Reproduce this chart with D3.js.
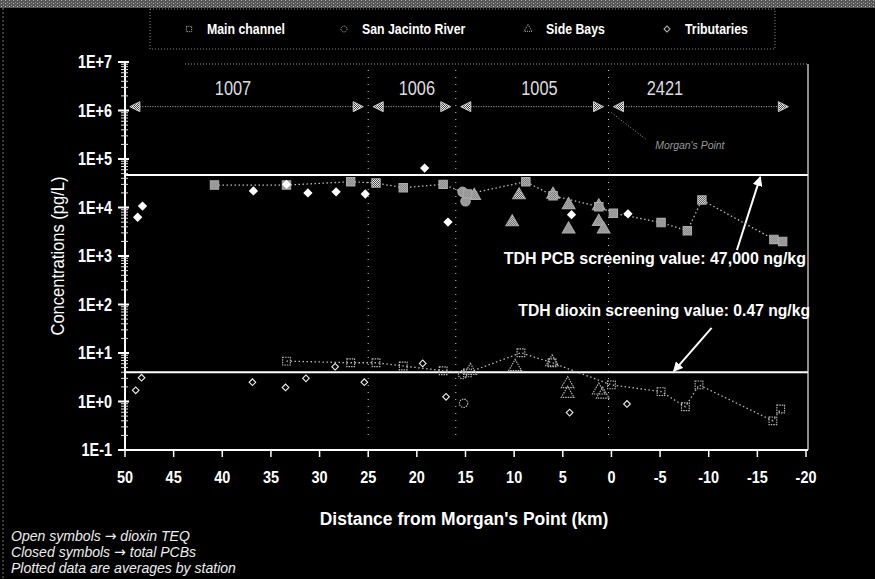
<!DOCTYPE html>
<html>
<head>
<meta charset="utf-8">
<script src="https://cdn.jsdelivr.net/npm/d3@7"></script>
<style>
  html, body { margin: 0; padding: 0; background: #000; }
  svg { display: block; }
  text { font-family: "Liberation Sans", Arial, sans-serif; fill: #fff; }
</style>
</head>
<body>
<svg width="875" height="579"></svg>
<script>
// [distance from Morgan's Point (km), concentration (pg/L)]
// closed symbols = total PCBs, open symbols = dioxin TEQ
const mainPCB = [[40.8, 29000], [33.4, 29000], [26.8, 34000], [24.2, 32000], [21.4, 25600], [17.3, 30000],
  [14.8, 19000], [8.8, 34000], [6.0, 17500], [1.3, 10400], [-0.2, 7600], [-5.1, 4900], [-7.8, 3300],
  [-9.3, 14300], [-16.7, 2200], [-17.6, 2000]];
const mainDiox = [[33.4, 6.8], [26.8, 6.3], [24.2, 6.3], [21.4, 5.4], [17.3, 4.3], [14.8, 3.9], [9.3, 10.1],
  [6.1, 6.3], [0.0, 2.2], [-5.1, 1.6], [-7.6, 0.78], [-9.0, 2.2], [-16.6, 0.40], [-17.4, 0.70]];
const sjrPCB = [[15.3, 21000], [15.0, 13500]];
const sjrDiox = [[15.3, 3.6], [15.2, 0.92]];
const bayPCB = [[14.1, 17500], [10.2, 5000], [9.5, 18000], [6.0, 18500], [4.4, 11300], [4.4, 3550],
  [1.3, 10700], [1.3, 5100], [0.8, 3550]];
const bayDiox = [[14.5, 4.3], [9.9, 5.2], [6.1, 6.5], [4.5, 2.3], [4.5, 1.45], [1.3, 1.7], [0.9, 1.4]];
const tribPCB = [[48.7, 6300], [48.2, 10700], [36.8, 22000], [33.4, 30000], [31.2, 20000], [28.3, 21000],
  [25.3, 19000], [19.2, 65000], [16.8, 5000], [4.1, 7100], [-1.7, 7400]];
const tribDiox = [[48.9, 1.7], [48.3, 3.1], [36.9, 2.5], [33.5, 1.95], [31.4, 3.0], [28.4, 5.2], [25.4, 2.5],
  [19.4, 6.1], [17.0, 1.25], [4.3, 0.59], [-1.6, 0.89]];

// segments of the channel
const segNames = ["1007", "1006", "1005", "2421"];
const segBounds = [49.5, 25, 16, 0.3, -18.7];
const segLabelKm = [38.9, 20.0, 7.4, -5.5];

const xTicks = d3.range(50, -21, -5);
const yTicks = [1e-1, 1, 1e1, 1e2, 1e3, 1e4, 1e5, 1e6, 1e7];
const yTickLabels = ["1E-1", "1E+0", "1E+1", "1E+2", "1E+3", "1E+4", "1E+5", "1E+6", "1E+7"];

const pcbScreen = 47000, dioxScreen = 4.0;

const svg = d3.select("svg");
const width = +svg.attr("width");

const x = d3.scaleLinear().domain([50, -20]).range([125, 806]);
const y = d3.scaleLog().domain([0.1, 1e7]).range([450, 62]);

// narrow text: the scan uses a condensed face, so squeeze Liberation Sans
const txt = (sel, px, py, str, size, sx, anchor) => sel.append("text")
  .attr("transform", `translate(${px},${py}) scale(${sx},1)`)
  .attr("text-anchor", anchor || "start")
  .style("font-size", size + "px")
  .text(str);

const defs = svg.append("defs");
// dithered grey, like the scanned fills
const dither = defs.append("pattern").attr("id", "dither").attr("width", 2).attr("height", 2)
  .attr("patternUnits", "userSpaceOnUse");
dither.append("rect").attr("width", 2).attr("height", 2).attr("fill", "#444");
dither.append("rect").attr("width", 1).attr("height", 1).attr("fill", "#eee");
dither.append("rect").attr("x", 1).attr("y", 1).attr("width", 1).attr("height", 1).attr("fill", "#eee");
const speck = defs.append("pattern").attr("id", "speck").attr("width", 4).attr("height", 3)
  .attr("patternUnits", "userSpaceOnUse");
speck.append("rect").attr("width", 4).attr("height", 3).attr("fill", "#555");
speck.append("rect").attr("x", 1).attr("width", 1).attr("height", 1).attr("fill", "#bbb");
speck.append("rect").attr("x", 3).attr("y", 2).attr("width", 1).attr("height", 1).attr("fill", "#999");

svg.append("rect").attr("width", width).attr("height", 579).attr("fill", "#000");
svg.append("rect").attr("width", width).attr("height", 8).attr("fill", "url(#speck)");
svg.append("line").attr("x1", 3).attr("x2", 3).attr("y1", 8).attr("y2", 579)
  .attr("stroke", "#777").attr("stroke-dasharray", "2,2");

// legend
const lg = svg.append("g");
lg.append("rect").attr("x", 150).attr("y", 9).attr("width", 625).attr("height", 40)
  .attr("fill", "none").attr("stroke", "#888").attr("stroke-dasharray", "1,2");
const legendItems = [
  { name: "Main channel", type: d3.symbolSquare, lx: 189 },
  { name: "San Jacinto River", type: d3.symbolCircle, lx: 344 },
  { name: "Side Bays", type: d3.symbolTriangle, lx: 528 },
  { name: "Tributaries", type: d3.symbolSquare, lx: 667 }
];
legendItems.forEach((d) => {
  lg.append("path").attr("d", d3.symbol().type(d.type).size(d.name == "Tributaries" ? 18 : 28)())
    .attr("transform", `translate(${d.lx},29)` + (d.name == "Tributaries" ? " rotate(45)" : ""))
    .attr("fill", "none").attr("stroke", "#bbb").attr("stroke-dasharray", d.name == "Tributaries" ? null : "1,1");
  txt(lg, d.lx + 18, 34, d.name, 14, 0.88).style("font-weight", "bold");
});

// plot frame
const g = svg.append("g");
g.append("line").attr("x1", 185).attr("x2", 808).attr("y1", 64).attr("y2", 64)
  .attr("stroke", "#999").attr("stroke-dasharray", "1,2");
g.append("line").attr("x1", 808).attr("x2", 808).attr("y1", 64).attr("y2", 450)
  .attr("stroke", "#bbb").attr("stroke-width", 1.5);

// segment boundaries
g.selectAll(".bound").data(segBounds.slice(1, 4)).enter().append("line")
  .attr("x1", (d) => x(d)).attr("x2", (d) => x(d)).attr("y1", 70).attr("y2", 440)
  .attr("stroke", "#ccc").attr("stroke-dasharray", "1,6");

// y axis with log minor ticks
g.append("line").attr("x1", 125).attr("x2", 125).attr("y1", y(1e7)).attr("y2", y(0.1))
  .attr("stroke", "#fff").attr("stroke-width", 2);
const minor = [];
d3.range(-1, 7).forEach((e) => d3.range(2, 10).forEach((m) => minor.push(m * Math.pow(10, e))));
g.selectAll(".ymin").data(minor).enter().append("line")
  .attr("x1", 121).attr("x2", 128).attr("y1", (d) => y(d)).attr("y2", (d) => y(d))
  .attr("stroke", "#ddd");
g.selectAll(".ymaj").data(yTicks).enter().append("line")
  .attr("x1", 118).attr("x2", 129).attr("y1", (d) => y(d)).attr("y2", (d) => y(d))
  .attr("stroke", "#fff").attr("stroke-width", 2);
yTicks.forEach((d, i) => {
  txt(g, 112, y(d) + 6, yTickLabels[i], 18, 0.8, "end").style("font-weight", "bold");
});

// x axis
g.append("line").attr("x1", 125).attr("x2", 808).attr("y1", 450).attr("y2", 450)
  .attr("stroke", "#fff").attr("stroke-width", 2);
g.selectAll(".xt").data(xTicks).enter().append("line")
  .attr("x1", (d) => x(d)).attr("x2", (d) => x(d)).attr("y1", 450).attr("y2", 457)
  .attr("stroke", "#fff").attr("stroke-width", 1.5);
xTicks.forEach((d) => {
  txt(g, x(d), 483, d, 17, 0.85, "middle").style("font-weight", "bold");
});

txt(svg, 464, 525, "Distance from Morgan's Point (km)", 19, 0.92, "middle").style("font-weight", "bold");
svg.append("text").attr("transform", "translate(64,256) rotate(-90) scale(0.92,1)").attr("text-anchor", "middle")
  .text("Concentrations (pg/L)").style("font-size", "18px");

// segment arrows and labels
const head = (px, py, dir) => `M${px},${py}L${px - dir * 10},${py - 5}L${px - dir * 10},${py + 5}Z`;
segNames.forEach((name, i) => {
  const a = x(segBounds[i]) + (i == 0 ? 0 : 5), b = x(segBounds[i + 1]) - 5, yy = y(1.2e6);
  g.append("line").attr("x1", a).attr("x2", b).attr("y1", yy).attr("y2", yy)
    .attr("stroke", "#bbb").attr("stroke-dasharray", "1,1.5");
  g.append("path").attr("d", head(a, yy, -1)).attr("fill", "url(#dither)").attr("stroke", "#ccc");
  g.append("path").attr("d", head(b, yy, 1)).attr("fill", "url(#dither)").attr("stroke", "#ccc");
  txt(g, x(segLabelKm[i]), 95, name, 21, 0.78, "middle").style("fill", "#ddd");
});
g.append("line").attr("x1", x(0.0)).attr("x2", x(-3.5)).attr("y1", y(9e5)).attr("y2", y(2.6e5))
  .attr("stroke", "#aaa").attr("stroke-dasharray", "1,2");
txt(g, x(-4.5), y(1.6e5), "Morgan's Point", 11, 0.95).style("font-style", "italic").style("fill", "#999");

// screening values
[pcbScreen, dioxScreen].forEach((v) => {
  g.append("line").attr("x1", 125).attr("x2", 808).attr("y1", y(v)).attr("y2", y(v))
    .attr("stroke", "#fff").attr("stroke-width", 2);
});
txt(g, 806, y(700), "TDH PCB screening value: 47,000 ng/kg", 16, 1.0, "end").style("font-weight", "bold");
txt(g, 810, y(58), "TDH dioxin screening value: 0.47 ng/kg", 16, 0.98, "end").style("font-weight", "bold");
defs.append("marker").attr("id", "ah").attr("viewBox", "0 0 10 10").attr("refX", 9).attr("refY", 5)
  .attr("markerWidth", 5).attr("markerHeight", 5).attr("orient", "auto")
  .append("path").attr("d", "M0,0L10,5L0,10Z").attr("fill", "#fff");
g.append("line").attr("x1", x(-12.9)).attr("y1", y(1330)).attr("x2", x(-15.3)).attr("y2", y(pcbScreen) + 2)
  .attr("stroke", "#fff").attr("stroke-width", 2).attr("marker-end", "url(#ah)");
g.append("line").attr("x1", x(-10.3)).attr("y1", y(33)).attr("x2", x(-6.4)).attr("y2", y(dioxScreen) - 1)
  .attr("stroke", "#fff").attr("stroke-width", 2).attr("marker-end", "url(#ah)");

// main channel connecting lines
const line = d3.line().x((d) => x(d[0])).y((d) => y(d[1]));
[mainPCB, mainDiox].forEach((s) => {
  g.append("path").attr("d", line(s)).attr("fill", "none")
    .attr("stroke", "#bbb").attr("stroke-width", 1.3).attr("stroke-dasharray", "1.5,2.5");
});

// markers
const plot = (data, type, size, closed, stroke, dash, rot) => {
  g.append("g").selectAll("path").data(data).enter().append("path")
    .attr("d", d3.symbol().type(type).size(size))
    .attr("transform", (d) => `translate(${x(d[0])},${y(d[1])})` + (rot ? ` rotate(${rot})` : ""))
    .attr("fill", closed ? closed : "none")
    .attr("stroke", stroke).attr("stroke-width", 1.1)
    .attr("stroke-dasharray", dash);
};
plot(bayPCB, d3.symbolTriangle, 70, "url(#dither)", "#aaa", null);
plot(sjrPCB, d3.symbolCircle, 70, "url(#dither)", "#aaa", null);
plot(mainPCB, d3.symbolSquare, 70, "url(#dither)", "#aaa", null);
plot(tribPCB, d3.symbolSquare, 30, "#fff", "#fff", null, 45);
plot(bayDiox, d3.symbolTriangle, 70, null, "#bbb", "1.5,1");
plot(sjrDiox, d3.symbolCircle, 55, null, "#bbb", "1.5,1");
plot(mainDiox, d3.symbolSquare, 60, null, "#bbb", "1.5,1");
plot(tribDiox, d3.symbolSquare, 22, null, "#eee", null, 45);

// notes, arrow glyph taken from DejaVu (bigger than Liberation's)
const notes = [["Open symbols ", " dioxin TEQ"], ["Closed symbols ", " total PCBs"], ["Plotted data are averages by station", ""]];
notes.forEach((d, i) => {
  const t = txt(svg, 11, 541 + i * 16, "", 14.5, 0.97).style("font-style", "italic").style("fill", "#eee");
  t.append("tspan").text(d[0]);
  if (d[1]) {
    t.append("tspan").style("font-family", "DejaVu Sans").style("font-style", "normal").text("\u2192");
    t.append("tspan").text(d[1]);
  }
});
</script>
</body>
</html>
